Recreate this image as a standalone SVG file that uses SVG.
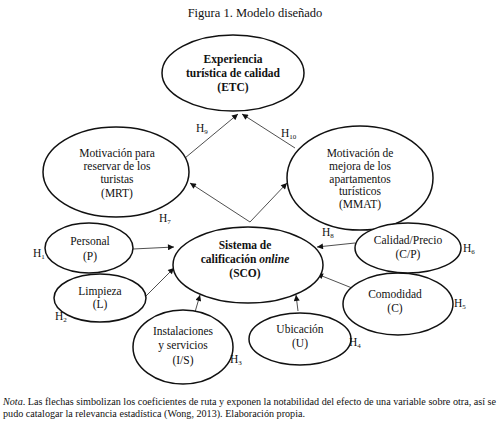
<svg xmlns="http://www.w3.org/2000/svg" width="501" height="422" viewBox="0 0 501 422" font-family="'Liberation Serif', 'Times New Roman', serif">
<style>
text{font-family:"Liberation Serif","Times New Roman",serif;fill:#111;}
.t{font-size:11.5px;text-anchor:middle;}
.b{font-weight:bold;}
.h{font-size:11.5px;}
.s{font-size:7px;}
ellipse{fill:#fff;stroke:#111;stroke-width:1.5;}
.c line{stroke:#222;stroke-width:0.8;}
</style>
<defs>
<marker id="a" viewBox="0 0 10 10" refX="10" refY="5" markerWidth="7" markerHeight="6" markerUnits="userSpaceOnUse" orient="auto">
<path d="M0,0 L10,5 L0,10 z" fill="#111"/>
</marker>
</defs>
<rect width="501" height="422" fill="#fff"/>
<text x="255" y="17" style="font-size:12.5px;text-anchor:middle">Figura 1. Modelo diseñado</text>

<g class="c">
<line x1="185" y1="158" x2="238" y2="114" marker-end="url(#a)"/>
<line x1="295" y1="148" x2="242" y2="114" marker-end="url(#a)"/>
<line x1="250" y1="222" x2="190" y2="183" marker-end="url(#a)"/>
<line x1="250" y1="222" x2="287" y2="183" marker-end="url(#a)"/>
<line x1="133" y1="249" x2="174" y2="247" marker-end="url(#a)"/>
<line x1="146" y1="296" x2="174" y2="268" marker-end="url(#a)"/>
<line x1="195" y1="312" x2="200" y2="295" marker-end="url(#a)"/>
<line x1="298" y1="311" x2="296" y2="295" marker-end="url(#a)"/>
<line x1="352" y1="288" x2="317" y2="274" marker-end="url(#a)"/>
<line x1="355" y1="243" x2="317" y2="247" marker-end="url(#a)"/>
</g>

<g id="etc">
<ellipse cx="233" cy="73" rx="71" ry="38"/>
<text class="t b" x="233" y="63">Experiencia</text>
<text class="t b" x="233" y="77">turística de calidad</text>
<text class="t b" x="233" y="91">(ETC)</text>
</g>
<g id="mrt">
<ellipse cx="116" cy="172" rx="73" ry="45"/>
<text class="t" x="117" y="157">Motivación para</text>
<text class="t" x="117" y="170">reservar de los</text>
<text class="t" x="117" y="183">turistas</text>
<text class="t" x="117" y="197">(MRT)</text>
</g>
<g id="mmat">
<ellipse cx="360" cy="178" rx="73" ry="52"/>
<text class="t" x="360" y="157">Motivación de</text>
<text class="t" x="360" y="170">mejora de los</text>
<text class="t" x="360" y="183">apartamentos</text>
<text class="t" x="360" y="195">turísticos</text>
<text class="t" x="360" y="208">(MMAT)</text>
</g>
<g id="sco">
<ellipse cx="248" cy="265" rx="75" ry="38"/>
<text class="t b" x="245" y="249">Sistema de</text>
<text class="t b" x="245" y="263">calificación <tspan font-style="italic">online</tspan></text>
<text class="t b" x="245" y="277">(SCO)</text>
</g>
<g id="p">
<ellipse cx="89" cy="248" rx="44" ry="25"/>
<text class="t" x="90" y="245">Personal</text>
<text class="t" x="90" y="260">(P)</text>
</g>
<g id="l">
<ellipse cx="100" cy="298" rx="46" ry="24"/>
<text class="t" x="100" y="295">Limpieza</text>
<text class="t" x="100" y="308">(L)</text>
</g>
<g id="is">
<ellipse cx="183" cy="347" rx="50" ry="37"/>
<text class="t" x="183" y="335">Instalaciones</text>
<text class="t" x="183" y="349">y servicios</text>
<text class="t" x="183" y="364">(I/S)</text>
</g>
<g id="u">
<ellipse cx="300" cy="339" rx="51" ry="26"/>
<text class="t" x="300" y="333">Ubicación</text>
<text class="t" x="300" y="347">(U)</text>
</g>
<g id="c">
<ellipse cx="398" cy="304" rx="55" ry="31"/>
<text class="t" x="395" y="298">Comodidad</text>
<text class="t" x="395" y="312">(C)</text>
</g>
<g id="cp">
<ellipse cx="408" cy="248" rx="53" ry="25"/>
<text class="t" x="408" y="244">Calidad/Precio</text>
<text class="t" x="408" y="258">(C/P)</text>
</g>

<g id="labels">
<text class="h" x="196" y="132">H<tspan class="s" dy="2">9</tspan></text>
<text class="h" x="281" y="137">H<tspan class="s" dy="2">10</tspan></text>
<text class="h" x="159" y="222">H<tspan class="s" dy="2">7</tspan></text>
<text class="h" x="33" y="257">H<tspan class="s" dy="2">1</tspan></text>
<text class="h" x="55" y="320">H<tspan class="s" dy="2">2</tspan></text>
<text class="h" x="230" y="363">H<tspan class="s" dy="2">3</tspan></text>
<text class="h" x="349" y="346">H<tspan class="s" dy="2">4</tspan></text>
<text class="h" x="454" y="307">H<tspan class="s" dy="2">5</tspan></text>
<text class="h" x="463" y="252">H<tspan class="s" dy="2">6</tspan></text>
<text class="h" x="322" y="236">H<tspan class="s" dy="2">8</tspan></text>
</g>

<text x="3" y="405" style="font-size:10px" textLength="493" lengthAdjust="spacingAndGlyphs"><tspan font-style="italic">Nota</tspan>. Las flechas simbolizan los coeficientes de ruta y exponen la notabilidad del efecto de una variable sobre otra, así se</text>
<text x="3" y="417" style="font-size:10px" textLength="302" lengthAdjust="spacingAndGlyphs">pudo catalogar la relevancia estadística (Wong, 2013). Elaboración propia.</text>
</svg>
